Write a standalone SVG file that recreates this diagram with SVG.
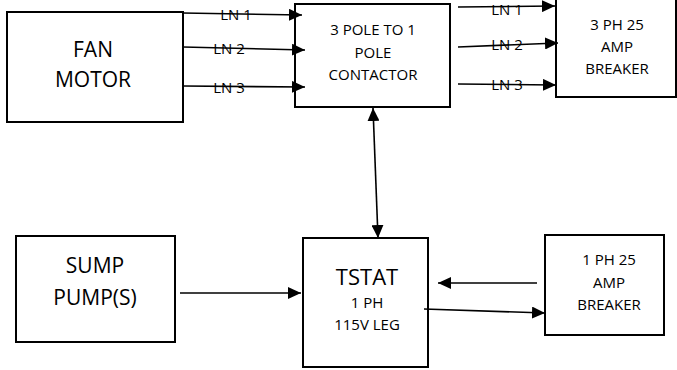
<svg xmlns="http://www.w3.org/2000/svg" width="677" height="370" viewBox="0 0 677 370">
<style>
.box{fill:#fff;stroke:#000;stroke-width:2}
.t{font-family:"Open Sans","Liberation Sans",sans-serif;fill:#000;text-anchor:middle}
.big{font-size:21px}
.med{font-size:15px}
.ln{font-size:15px}
.c{fill:none;stroke:#000;stroke-width:1.6}
</style>
<defs>
<marker id="ah" markerUnits="userSpaceOnUse" markerWidth="14" markerHeight="12" refX="13" refY="6" orient="auto-start-reverse">
<path d="M0,0 L13,6 L0,12 Z" fill="#000"/>
</marker>
</defs>
<rect width="677" height="370" fill="#fff"/>
<g id="fan-motor">
<rect class="box" x="7" y="12" width="176" height="110"/>
<text class="t big" x="93" y="57">FAN</text>
<text class="t big" x="93" y="87">MOTOR</text>
</g>
<g id="contactor">
<rect class="box" x="295" y="4" width="155" height="103"/>
<text class="t med" x="373" y="35">3 POLE TO 1</text>
<text class="t med" x="373" y="58">POLE</text>
<text class="t med" x="373" y="80">CONTACTOR</text>
</g>
<g id="breaker-3ph">
<rect class="box" x="556" y="-5" width="120" height="102"/>
<text class="t med" x="617" y="30">3 PH 25</text>
<text class="t med" x="617" y="52">AMP</text>
<text class="t med" x="617" y="74">BREAKER</text>
</g>
<g id="sump-pump">
<rect class="box" x="16" y="236" width="159" height="106"/>
<text class="t big" x="95" y="273">SUMP</text>
<text class="t big" x="95" y="305">PUMP(S)</text>
</g>
<g id="tstat">
<rect class="box" x="303" y="238" width="125" height="129"/>
<text class="t" style="font-size:22px" x="367" y="285">TSTAT</text>
<text class="t med" x="367" y="308">1 PH</text>
<text class="t med" x="367" y="330">115V LEG</text>
</g>
<g id="breaker-1ph">
<rect class="box" x="545" y="235" width="119" height="100"/>
<text class="t med" x="609" y="265">1 PH 25</text>
<text class="t med" x="609" y="288">AMP</text>
<text class="t med" x="609" y="310">BREAKER</text>
</g>
<g id="connectors">
<line class="c" x1="183" y1="13" x2="302" y2="15" marker-end="url(#ah)"/>
<line class="c" x1="183" y1="47" x2="305" y2="50" marker-end="url(#ah)"/>
<line class="c" x1="183" y1="86" x2="305" y2="87" marker-end="url(#ah)"/>
<line class="c" x1="458" y1="7" x2="555" y2="6" marker-end="url(#ah)"/>
<line class="c" x1="458" y1="47" x2="558" y2="43" marker-end="url(#ah)"/>
<line class="c" x1="458" y1="84" x2="556" y2="85" marker-end="url(#ah)"/>
<line class="c" x1="373" y1="108" x2="378" y2="238" marker-start="url(#ah)" marker-end="url(#ah)"/>
<line class="c" x1="180" y1="293" x2="301" y2="293" marker-end="url(#ah)"/>
<line class="c" x1="537" y1="283" x2="438" y2="283" marker-end="url(#ah)"/>
<line class="c" x1="424" y1="309" x2="545" y2="313" marker-end="url(#ah)"/>
<text class="t ln" x="236" y="20">LN 1</text>
<text class="t ln" x="229" y="54">LN 2</text>
<text class="t ln" x="229" y="93">LN 3</text>
<text class="t ln" x="507" y="15">LN 1</text>
<text class="t ln" x="507" y="50">LN 2</text>
<text class="t ln" x="507" y="90">LN 3</text>
</g>
</svg>
